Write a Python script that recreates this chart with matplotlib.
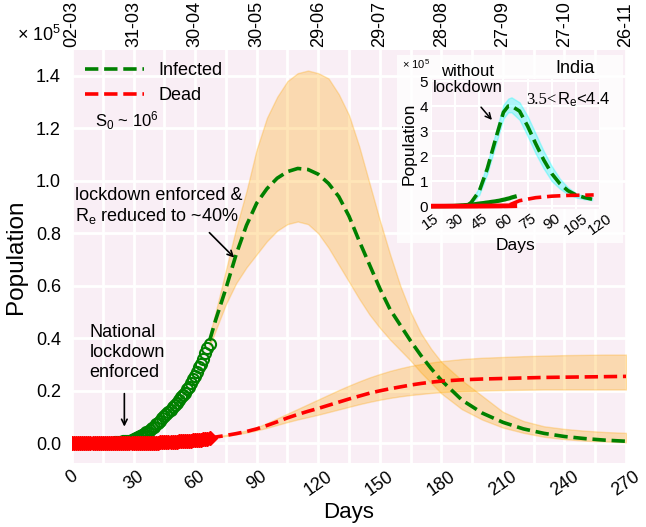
import matplotlib
matplotlib.use("Agg")
import numpy as np
import matplotlib.pyplot as plt
from matplotlib.patches import Rectangle

plt.rcParams['font.family'] = ['Liberation Sans', 'DejaVu Sans']
plt.rcParams['mathtext.fontset'] = 'custom'
plt.rcParams['mathtext.rm'] = 'Liberation Sans'
plt.rcParams['mathtext.it'] = 'Liberation Sans:italic'
plt.rcParams['mathtext.bf'] = 'Liberation Sans:bold'

# observed data (x 1e5), one value per day from day 0 (02-03)
infected_obs = [0.000, 0.000, 0.000, 0.000, 0.000, 0.000, 0.000, 0.000, 0.001, 0.001,
                0.001, 0.001, 0.001, 0.001, 0.001, 0.001, 0.001, 0.002, 0.002, 0.003,
                0.003, 0.004, 0.005, 0.005, 0.006, 0.007, 0.008, 0.009, 0.010, 0.011,
                0.015, 0.019, 0.023, 0.028, 0.033, 0.036, 0.042, 0.045, 0.050, 0.058,
                0.063, 0.072, 0.077, 0.086, 0.096, 0.106, 0.113, 0.120, 0.128, 0.139,
                0.147, 0.155, 0.166, 0.176, 0.184, 0.193, 0.206, 0.215, 0.228, 0.244,
                0.258, 0.270, 0.290, 0.304, 0.320, 0.345, 0.363, 0.380]
dead_obs = [0.0, 0.0, 0.0, 0.0, 0.0, 0.0, 0.0, 0.0, 0.0, 0.0,
            0.0, 0.0, 0.0, 0.0, 0.0, 0.0, 0.0, 0.0, 0.0, 0.0001,
            0.0001, 0.0001, 0.0001, 0.0001, 0.0002, 0.0002, 0.0002, 0.0003, 0.0003, 0.0003,
            0.0004, 0.0005, 0.0006, 0.0008, 0.0009, 0.0011, 0.0013, 0.0016, 0.0019, 0.0021,
            0.0024, 0.0027, 0.0031, 0.0035, 0.0038, 0.0042, 0.0046, 0.0050, 0.0055, 0.0059,
            0.0064, 0.0069, 0.0073, 0.0078, 0.0082, 0.0086, 0.0091, 0.0096, 0.0102, 0.0110,
            0.0117, 0.0124, 0.0130, 0.0142, 0.0155, 0.0169, 0.0183, 0.0198]
obs_days = np.arange(len(infected_obs))

# model with lockdown
model_days = [67, 70, 75, 80, 85, 90, 95, 100, 105, 110, 115, 120, 125, 130, 135, 140, 145,
              150, 155, 160, 165, 170, 175, 180, 190, 200, 210, 220, 230, 240, 250, 260, 270]
inf_mid = [0.39, 0.47, 0.59, 0.72, 0.83, 0.915, 0.97, 1.01, 1.035, 1.047, 1.043, 1.025, 0.99,
           0.94, 0.865, 0.77, 0.68, 0.59, 0.51, 0.45, 0.39, 0.335, 0.285, 0.24, 0.165, 0.115,
           0.08, 0.055, 0.038, 0.026, 0.018, 0.012, 0.008]
inf_hi = [0.41, 0.50, 0.66, 0.82, 0.96, 1.12, 1.24, 1.32, 1.38, 1.41, 1.42, 1.41, 1.39, 1.33,
          1.25, 1.13, 0.99, 0.85, 0.72, 0.60, 0.50, 0.42, 0.36, 0.31, 0.24, 0.18, 0.12, 0.085,
          0.065, 0.055, 0.048, 0.043, 0.04]
inf_lo = [0.37, 0.43, 0.53, 0.61, 0.67, 0.72, 0.77, 0.81, 0.835, 0.845, 0.835, 0.80, 0.745,
          0.68, 0.615, 0.55, 0.49, 0.44, 0.395, 0.355, 0.315, 0.27, 0.23, 0.19, 0.13, 0.09,
          0.06, 0.04, 0.025, 0.016, 0.01, 0.007, 0.004]
dead_mid = [0.02, 0.024, 0.03, 0.037, 0.045, 0.055, 0.068, 0.082, 0.097, 0.11, 0.122, 0.133,
            0.145, 0.157, 0.169, 0.18, 0.191, 0.2, 0.208, 0.215, 0.222, 0.228, 0.233, 0.237,
            0.242, 0.245, 0.247, 0.249, 0.251, 0.252, 0.253, 0.254, 0.255]
dead_hi = [0.021, 0.025, 0.032, 0.04, 0.049, 0.061, 0.077, 0.095, 0.113, 0.131, 0.149, 0.167,
           0.185, 0.203, 0.22, 0.236, 0.251, 0.264, 0.276, 0.286, 0.295, 0.302, 0.308, 0.313,
           0.321, 0.326, 0.329, 0.332, 0.334, 0.336, 0.337, 0.338, 0.338]
dead_lo = [0.019, 0.023, 0.028, 0.034, 0.041, 0.049, 0.059, 0.07, 0.081, 0.091, 0.1, 0.109,
           0.119, 0.129, 0.139, 0.149, 0.158, 0.166, 0.173, 0.179, 0.184, 0.188, 0.192, 0.195,
           0.199, 0.201, 0.203, 0.204, 0.205, 0.205, 0.205, 0.205, 0.205]

# inset: without lockdown
nl_days = [38, 40, 45, 50, 55, 60, 63, 65, 70, 75, 80, 85, 90, 95, 100, 105, 110, 115]
nl_mid = [0.05, 0.15, 0.6, 1.5, 2.65, 3.75, 4.0, 4.0, 3.8, 3.2, 2.5, 1.85, 1.3, 0.9, 0.62,
          0.45, 0.35, 0.28]
nl_hi = [0.1, 0.22, 0.75, 1.7, 2.9, 4.05, 4.3, 4.35, 4.15, 3.6, 2.9, 2.2, 1.6, 1.1, 0.75,
         0.52, 0.4, 0.32]
nl_lo = [0.02, 0.1, 0.45, 1.3, 2.4, 3.5, 3.75, 3.75, 3.45, 2.8, 2.1, 1.5, 1.0, 0.7, 0.48,
         0.35, 0.28, 0.24]
nl_dead_days = [64, 70, 80, 90, 100, 110, 116]
nl_dead = [0.06, 0.22, 0.34, 0.40, 0.43, 0.44, 0.45]

day_ticks = np.arange(0, 271, 30)
date_labels = ['02-03', '31-03', '30-04', '30-05', '29-06', '29-07', '28-08', '27-09',
               '27-10', '26-11']
inset_ticks = np.arange(15, 121, 15)

bg = '#f9eef5'

fig = plt.figure(figsize=(6.46, 5.27), dpi=100)
ax = fig.add_axes([0.1115, 0.1214, 0.8576, 0.7846])
ax.set_facecolor(bg)
for s in ax.spines.values():
    s.set_visible(False)
ax.set_xlim(0, 270)
ax.set_ylim(-0.075, 1.5)
ax.set_xticks(day_ticks)
ax.set_xticks(np.arange(15, 270, 30), minor=True)
ax.set_yticks(np.arange(0, 1.41, 0.2))
ax.set_yticklabels(['%.1f' % v for v in np.arange(0, 1.41, 0.2)])
ax.grid(True, which='both', axis='x', color='white', lw=2)
ax.grid(True, which='major', axis='y', color='white', lw=2)
ax.set_axisbelow(True)
ax.tick_params(which='both', length=0, labelsize=13)
ax.tick_params(axis='y', pad=8)
for lab in ax.get_xticklabels():
    lab.set_rotation(35)
ax.set_xlabel('Days', fontsize=16, labelpad=2)
ax.set_ylabel('Population', fontsize=17.5, labelpad=6)

ax.fill_between(model_days, inf_lo, inf_hi, color='orange', alpha=0.28, lw=1)
ax.fill_between(model_days, dead_lo, dead_hi, color='orange', alpha=0.28, lw=1)
ax.plot(model_days, inf_mid, '--', color='green', lw=2.6, label='Infected')
ax.plot(model_days, dead_mid, '--', color='red', lw=2.6, label='Dead')
ax.plot(obs_days, infected_obs, 'o', ms=8, mfc='none', mec='green', mew=1.5)
ax.plot(obs_days, dead_obs, 'D', ms=7.5, color='red')

ax.legend(loc='upper left', frameon=False, fontsize=13, handlelength=3.3,
          borderaxespad=0.3, labelspacing=0.45)

ax.text(11, 1.23, 'S$_0$ ~ 10$^6$', fontsize=12, va='center')
ax.text(8.4, 0.455, 'National\nlockdown\nenforced', fontsize=13, va='top',
        linespacing=1.25)
ax.annotate('', xy=(25.5, 0.053), xytext=(25.5, 0.2),
            arrowprops=dict(arrowstyle='->', color='black', lw=1.2))
ax.text(1.5, 0.975, 'lockdown enforced &\nR$_\\mathrm{e}$ reduced to ~40%', fontsize=13,
        va='top', linespacing=1.1)
ax.annotate('', xy=(80, 0.70), xytext=(66, 0.81),
            arrowprops=dict(arrowstyle='->', color='black', lw=1.2))

top = ax.twiny()
top.set_xlim(ax.get_xlim())
top.set_xticks(day_ticks)
top.set_xticklabels(date_labels, rotation=90)
top.tick_params(length=0, labelsize=13, pad=2)
for s in top.spines.values():
    s.set_visible(False)

fig.text(0.026, 0.934, '× 10$^5$', fontsize=13, va='center')

# translucent box behind the inset
fig.patches.append(Rectangle((0.6146, 0.539), 0.35, 0.357, transform=fig.transFigure,
                             facecolor='white', alpha=0.8, edgecolor='none', zorder=1))

ins = fig.add_axes([0.667, 0.604, 0.262, 0.247])
ins.set_zorder(2)
ins.set_facecolor(bg)
for s in ins.spines.values():
    s.set_visible(False)
ins.set_xlim(15, 117)
ins.set_ylim(-0.1, 5.1)
ins.set_xticks(inset_ticks)
ins.set_yticks(range(6))
ins.grid(True, color='white', lw=1.5)
ins.set_axisbelow(True)
ins.tick_params(length=0, labelsize=11, pad=2)
for lab in ins.get_xticklabels():
    lab.set_rotation(35)
ins.set_xlabel('Days', fontsize=12.5, labelpad=0)
ins.set_ylabel('Population', fontsize=12.5, labelpad=2)

ins.fill_between(nl_days, nl_lo, nl_hi, color='cyan', alpha=0.3, lw=1)
ins.plot(nl_days, nl_mid, '--', color='green', lw=2.6)
ins.plot(nl_dead_days, nl_dead, '--', color='red', lw=2.6)
ins.plot(obs_days, infected_obs, '-', color='green', lw=3)
ins.plot(obs_days, dead_obs, '-', color='red', lw=3.5)

ins.text(37.8, 5.7, 'without\nlockdown', fontsize=12, ha='center', va='top', linespacing=1.1)
ins.annotate('', xy=(54, 3.36), xytext=(45, 4.04),
             arrowprops=dict(arrowstyle='->', color='black', lw=1.1))
ins.text(104.4, 5.52, 'India', fontsize=13, ha='center', va='center')
ins.text(93, 4.25, '3.5<', fontsize=12, ha='right', va='center', family='Liberation Serif')
ins.text(93, 4.25, 'R$_\\mathrm{e}$<4.4', fontsize=12, ha='left', va='center')
fig.text(0.622, 0.879, '× 10$^5$', fontsize=8, va='center')

fig.savefig('out.png', dpi=100)
